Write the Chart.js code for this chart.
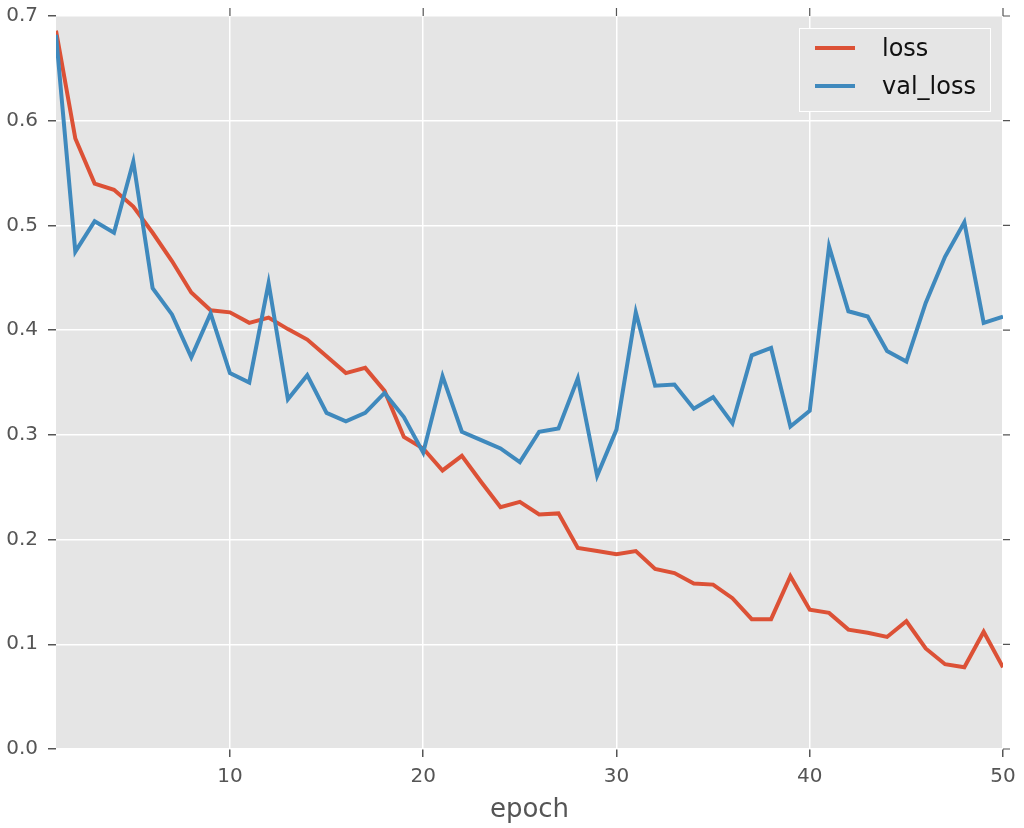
<!DOCTYPE html>
<html lang="en">
<head>
<meta charset="UTF-8">
<title>loss / val_loss</title>
<script src="https://cdn.jsdelivr.net/npm/chart.js"></script>
<style>
  html, body { margin: 0; padding: 0; background: #fff; }
  #wrap { width: 1024px; height: 828px; }
</style>
</head>
<body>
<div id="wrap"><canvas id="lossChart" width="1024" height="828"></canvas></div>
<script>
// data
const epochs = [1,2,3,4,5,6,7,8,9,10,11,12,13,14,15,16,17,18,19,20,21,22,23,24,25,
                26,27,28,29,30,31,32,33,34,35,36,37,38,39,40,41,42,43,44,45,46,47,48,49,50];
const loss = [0.686,0.583,0.540,0.534,0.518,0.493,0.466,0.436,0.419,0.417,
              0.407,0.412,0.401,0.391,0.375,0.359,0.364,0.342,0.298,0.287,
              0.266,0.280,0.255,0.231,0.236,0.224,0.225,0.192,0.189,0.186,
              0.189,0.172,0.168,0.158,0.157,0.144,0.124,0.124,0.165,0.133,
              0.130,0.114,0.111,0.107,0.122,0.096,0.081,0.078,0.112,0.078];
const valLoss = [0.682,0.475,0.504,0.493,0.561,0.440,0.415,0.374,0.416,0.359,
                 0.350,0.445,0.334,0.357,0.321,0.313,0.321,0.340,0.317,0.283,
                 0.356,0.303,0.295,0.287,0.274,0.303,0.306,0.354,0.261,0.305,
                 0.417,0.347,0.348,0.325,0.336,0.311,0.376,0.383,0.308,0.323,
                 0.480,0.418,0.413,0.380,0.370,0.426,0.470,0.503,0.407,0.413];
const xTicks = [10, 20, 30, 40, 50];
const yTicks = [0.0, 0.1, 0.2, 0.3, 0.4, 0.5, 0.6, 0.7];

const FONT = "'DejaVu Sans', sans-serif";

// grey panel behind the plot
const panelBg = {
    id: 'panelBg',
    beforeDraw(chart) {
        const a = chart.chartArea, c = chart.ctx;
        c.save();
        c.fillStyle = '#e5e5e5';
        c.fillRect(a.left, a.top, a.right - a.left, a.bottom - a.top);
        c.restore();
    }
};

// tick marks on top and right edges + legend box
const extras = {
    id: 'extras',
    afterDraw(chart) {
        const a = chart.chartArea, c = chart.ctx;
        const xs = chart.scales.x, ys = chart.scales.y;
        c.save();
        c.strokeStyle = '#555';
        c.lineWidth = 1.2;
        c.beginPath();
        xs.ticks.forEach(t => {
            const px = xs.getPixelForValue(t.value);
            c.moveTo(px, a.top); c.lineTo(px, a.top - 8);
        });
        ys.ticks.forEach(t => {
            const py = ys.getPixelForValue(t.value);
            c.moveTo(a.right, py); c.lineTo(a.right + 7, py);
        });
        c.stroke();

        // legend
        const bx = 799, by = 28, bw = 192, bh = 84;
        c.fillStyle = '#e5e5e5';
        c.fillRect(bx, by, bw, bh);
        c.strokeStyle = '#fff';
        c.lineWidth = 1;
        c.strokeRect(bx + 0.5, by + 0.5, bw - 1, bh - 1);
        c.font = '24px ' + FONT;
        c.textBaseline = 'middle';
        c.textAlign = 'left';
        chart.data.datasets.forEach((ds, i) => {
            const y = 48 + i * 38;
            c.strokeStyle = ds.borderColor;
            c.lineWidth = 4;
            c.beginPath();
            c.moveTo(815, y); c.lineTo(855, y);
            c.stroke();
            c.fillStyle = '#111';
            c.fillText(ds.label, 882, y + 2);
        });
        c.restore();
    }
};

new Chart(document.getElementById('lossChart'), {
    type: 'line',
    data: {
        datasets: [
            { label: 'loss', data: epochs.map((e, i) => ({ x: e, y: loss[i] })),
              borderColor: '#dc5136', borderWidth: 4, pointRadius: 0, tension: 0, order: 1 },
            { label: 'val_loss', data: epochs.map((e, i) => ({ x: e, y: valLoss[i] })),
              borderColor: '#3f89bd', borderWidth: 4, pointRadius: 0, tension: 0, order: 0 }
        ]
    },
    options: {
        responsive: false,
        animation: false,
        layout: { padding: { left: 0, top: 16, right: 21, bottom: 0 } },
        plugins: { legend: { display: false }, tooltip: { enabled: false } },
        scales: {
            x: {
                type: 'linear', min: 1, max: 50,
                afterBuildTicks(s) { s.ticks = xTicks.map(v => ({ value: v })); },
                afterFit(s) { s.height = 79; s.paddingLeft = 0; s.paddingRight = 0; },
                grid: { color: '#fff', lineWidth: 1.5, tickColor: '#555', tickLength: 8 },
                border: { display: false },
                ticks: { color: '#555', font: { family: FONT, size: 20 }, padding: 8, maxRotation: 0 },
                title: { display: true, text: 'epoch', color: '#555',
                         font: { family: FONT, size: 26 }, padding: { top: 0, bottom: 2 } }
            },
            y: {
                min: 0, max: 0.7,
                afterBuildTicks(s) { s.ticks = yTicks.map(v => ({ value: v })); },
                afterFit(s) { s.width = 56; s.paddingTop = 0; s.paddingBottom = 0; },
                grid: { color: '#fff', lineWidth: 1.5, tickColor: '#555', tickLength: 8 },
                border: { display: false },
                ticks: { color: '#555', font: { family: FONT, size: 20 }, padding: 10,
                         callback: v => v.toFixed(1) }
            }
        }
    },
    plugins: [panelBg, extras]
});
</script>
</body>
</html>
